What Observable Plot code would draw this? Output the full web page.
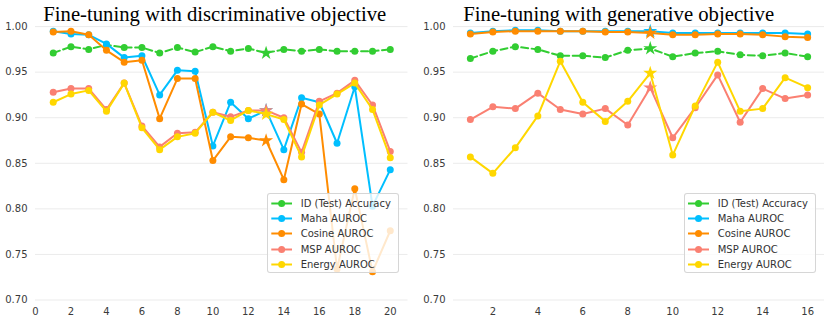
<!DOCTYPE html>
<html>
<head>
<meta charset="utf-8">
<script src="https://cdn.jsdelivr.net/npm/d3@7"></script>
<script src="https://cdn.jsdelivr.net/npm/@observablehq/plot@0.6"></script>
<style>
  html, body { margin: 0; padding: 0; background: #fff; }
  #wrap { position: relative; width: 830px; height: 321px; overflow: hidden; }
  .panel { position: absolute; top: 0; }
  .title { position: absolute; top: 2px; font-family: "Liberation Serif", "Times New Roman", serif; font-size: 20.7px; line-height: 24px; color: #000; white-space: nowrap; }
  .legend { position: absolute; box-sizing: border-box; background: rgba(255,255,255,0.8); border: 1px solid rgba(204,204,204,0.8); border-radius: 3px; font-family: "DejaVu Sans", sans-serif; font-size: 10px; color: #333; }
  .legend .row { position: absolute; height: 15px; line-height: 15px; white-space: nowrap; }
  .legend svg { position: absolute; top: 0; }
</style>
</head>
<body>
<div id="wrap"></div>
<script>
// ---------- data ----------
const seriesNames = ["ID (Test) Accuracy", "Maha AUROC", "Cosine AUROC", "MSP AUROC", "Energy AUROC"];
const seriesColors = ["#32CD32", "#00BFFF", "#FF8C00", "#FA8072", "#FFD700"];
const seriesDashed = [true, false, false, false, false];

const titleDisc = "Fine-tuning with discriminative objective";
const titleGen = "Fine-tuning with generative objective";

const epochsDisc = [1,2,3,4,5,6,7,8,9,10,11,12,13,14,15,16,17,18,19,20];
const idAccDisc  = [0.971,0.978,0.975,0.980,0.977,0.977,0.971,0.977,0.972,0.978,0.973,0.976,0.971,0.975,0.973,0.975,0.973,0.973,0.973,0.975];
const mahaDisc   = [0.995,0.992,0.991,0.981,0.966,0.968,0.925,0.952,0.951,0.869,0.917,0.899,0.908,0.865,0.922,0.917,0.872,0.934,0.803,0.843];
const cosineDisc = [0.994,0.995,0.991,0.974,0.961,0.963,0.899,0.943,0.943,0.853,0.879,0.878,0.875,0.832,0.915,0.904,0.734,0.822,0.731,0.776];
const mspDisc    = [0.928,0.932,0.932,0.909,0.938,0.891,0.868,0.883,0.884,0.906,0.901,0.908,0.908,0.900,0.862,0.918,0.927,0.941,0.914,0.863];
const energyDisc = [0.917,0.926,0.930,0.907,0.938,0.889,0.865,0.879,0.883,0.906,0.897,0.908,0.904,0.898,0.857,0.914,0.926,0.938,0.909,0.856];
const starDisc = 13;

const epochsGen = [1,2,3,4,5,6,7,8,9,10,11,12,13,14,15,16];
const idAccGen  = [0.965,0.973,0.978,0.975,0.968,0.968,0.966,0.974,0.976,0.967,0.971,0.973,0.969,0.968,0.971,0.967];
const mahaGen   = [0.993,0.995,0.996,0.996,0.995,0.995,0.995,0.995,0.995,0.993,0.993,0.993,0.993,0.993,0.993,0.992];
const cosineGen = [0.992,0.994,0.995,0.995,0.995,0.995,0.994,0.994,0.993,0.991,0.991,0.992,0.992,0.991,0.989,0.988];
const mspGen    = [0.898,0.912,0.910,0.927,0.909,0.904,0.910,0.892,0.933,0.878,0.911,0.947,0.895,0.932,0.921,0.925];
const energyGen = [0.857,0.839,0.867,0.902,0.962,0.917,0.896,0.918,0.949,0.859,0.913,0.961,0.907,0.910,0.944,0.933];
const starGen = 9;

const yTicks = [0.70, 0.75, 0.80, 0.85, 0.90, 0.95, 1.00];
const xTicksDisc = [0,2,4,6,8,10,12,14,16,18,20];
const xTicksGen = [2,4,6,8,10,12,14,16];

// ---------- drawing ----------
function makePanel(epochs, valuesList, starEpoch, opts) {
  const marks = [Plot.ruleY(yTicks, {stroke: "#ebebeb", strokeWidth: 1})];
  valuesList.forEach((vals, k) => {
    const rows = epochs.map((e, i) => ({x: e, y: vals[i]}));
    const color = seriesColors[k];
    marks.push(Plot.line(rows, {x: "x", y: "y", stroke: color, strokeWidth: 2,
      strokeDasharray: seriesDashed[k] ? "7,3.5" : null}));
    marks.push(Plot.dot(rows.filter(d => d.x !== starEpoch), {x: "x", y: "y", r: 3.5, fill: color, stroke: "none"}));
    marks.push(Plot.dot(rows.filter(d => d.x === starEpoch), {x: "x", y: "y", r: 4.4, symbol: "star", fill: color, stroke: "none"}));
  });
  return Plot.plot({
    width: 415, height: 321,
    marginLeft: opts.ml, marginRight: opts.mr, marginTop: 22, marginBottom: 21.5,
    style: {fontFamily: "DejaVu Sans, sans-serif", fontSize: "10px", color: "#3a3a3a", background: "transparent", overflow: "visible"},
    x: {domain: opts.xDomain, ticks: opts.xTicks, tickSize: 0, tickPadding: 8, label: null, tickFormat: d => String(d)},
    y: {domain: [0.70, 1.0045], ticks: yTicks, tickSize: 0, tickPadding: 8, label: null, tickFormat: d3.format(".2f")},
    marks
  });
}

const wrap = document.getElementById("wrap");

function addPanel(svg, left) {
  svg.classList.add("panel");
  svg.style.left = left + "px";
  wrap.appendChild(svg);
}

addPanel(makePanel(epochsDisc, [idAccDisc, mahaDisc, cosineDisc, mspDisc, energyDisc], starDisc,
  {ml: 35, mr: 7.5, xDomain: [0, 21], xTicks: xTicksDisc}), 0);
addPanel(makePanel(epochsGen, [idAccGen, mahaGen, cosineGen, mspGen, energyGen], starGen,
  {ml: 38, mr: 6, xDomain: [0.25, 16.75], xTicks: xTicksGen}), 415);

function addTitle(text, left) {
  const d = document.createElement("div");
  d.className = "title";
  d.style.left = left + "px";
  d.textContent = text;
  wrap.appendChild(d);
}
addTitle(titleDisc, 43.3);
addTitle(titleGen, 463.3);

function addLegend(left, width, handleX0, handleX1, textX) {
  const lg = document.createElement("div");
  lg.className = "legend";
  lg.style.left = left + "px";
  lg.style.top = "193.3px";
  lg.style.width = width + "px";
  lg.style.height = "80px";
  seriesNames.forEach((name, k) => {
    const row = document.createElement("div");
    row.className = "row";
    row.style.left = "0px";
    row.style.top = (1.5 + k * 15.25) + "px";
    row.style.width = "100%";
    const ns = "http://www.w3.org/2000/svg";
    const s = document.createElementNS(ns, "svg");
    s.setAttribute("width", handleX1 + 4);
    s.setAttribute("height", 15);
    s.style.left = "0px";
    const ln = document.createElementNS(ns, "line");
    ln.setAttribute("x1", handleX0); ln.setAttribute("x2", handleX1);
    ln.setAttribute("y1", 7.5); ln.setAttribute("y2", 7.5);
    ln.setAttribute("stroke", seriesColors[k]); ln.setAttribute("stroke-width", 2);
    const c = document.createElementNS(ns, "circle");
    c.setAttribute("cx", (handleX0 + handleX1) / 2); c.setAttribute("cy", 7.5);
    c.setAttribute("r", 3.5); c.setAttribute("fill", seriesColors[k]);
    s.appendChild(ln); s.appendChild(c);
    row.appendChild(s);
    const t = document.createElement("span");
    t.style.position = "absolute";
    t.style.left = textX + "px";
    t.textContent = name;
    row.appendChild(t);
    lg.appendChild(row);
  });
  wrap.appendChild(lg);
}
addLegend(266.7, 132, 3.3, 24, 33);
addLegend(684.3, 131.4, 3, 24, 32.4);
</script>
</body>
</html>
